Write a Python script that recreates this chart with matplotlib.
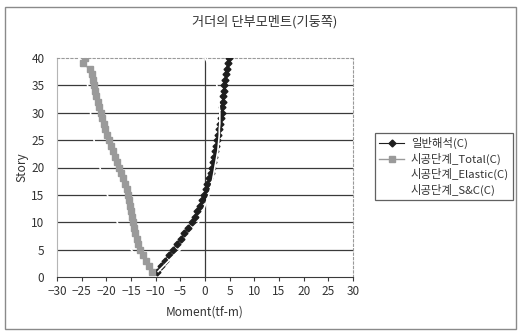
import matplotlib.pyplot as plt
from matplotlib.patches import Rectangle

plt.rcParams['font.family'] = ['Noto Sans CJK KR', 'DejaVu Sans']
plt.rcParams['axes.unicode_minus'] = True

stories = list(range(1, 41))

# 일반해석(C)
general = [-9.8, -9.0, -8.2, -7.3, -6.5, -5.7, -4.9, -4.2, -3.4, -2.7,
           -2.1, -1.6, -1.1, -0.6, -0.2, 0.2, 0.5, 0.9, 1.2, 1.5,
           1.7, 1.9, 2.1, 2.3, 2.5, 2.7, 2.9, 3.0, 3.2, 3.4,
           3.5, 3.6, 3.7, 3.8, 3.9, 4.1, 4.2, 4.4, 4.6, 4.9]
# 시공단계_Total(C)
total = [-10.8, -11.4, -12.0, -12.6, -13.2, -13.5, -13.8, -14.1, -14.4, -14.6,
         -14.8, -15.0, -15.2, -15.4, -15.6, -15.9, -16.3, -16.7, -17.1, -17.4,
         -17.8, -18.2, -18.6, -19.1, -19.5, -19.8, -20.2, -20.5, -20.8, -21.1,
         -21.4, -21.7, -22.0, -22.2, -22.5, -22.7, -23.0, -23.4, -24.7, -24.3]
# 시공단계_Elastic(C)
elastic = [-11.0, -12.0, -13.0, -14.0, -15.0, -15.6, -16.2, -16.8, -17.3, -17.8,
           -18.2, -18.6, -19.0, -19.4, -19.8, -20.1, -20.4, -20.7, -21.0, -21.3,
           -21.6, -21.9, -22.1, -22.3, -22.5, -22.7, -22.9, -23.0, -23.1, -23.2,
           -23.3, -23.4, -23.5, -23.6, -23.8, -24.0, -24.3, -24.6, -25.0, -25.4]
# 시공단계_S&C(C)
snc = [-9.5, -8.4, -7.3, -6.2, -5.0, -4.2, -3.4, -2.6, -1.9, -1.3,
       -0.8, -0.4, 0.0, 0.4, 0.8, 1.1, 1.4, 1.6, 1.8, 2.0,
       2.2, 2.4, 2.6, 2.7, 2.8, 2.9, 2.9, 3.0, 3.0, 3.0,
       2.9, 2.8, 2.7, 2.6, 2.4, 2.1, 1.7, 1.2, 0.6, 0.0]

labels = ['일반해석(C)', '시공단계_Total(C)', '시공단계_Elastic(C)', '시공단계_S&C(C)']
x_ticks = list(range(-30, 31, 5))
y_ticks = list(range(0, 41, 5))

fig = plt.figure(figsize=(5.2, 3.32), dpi=100)
fig.patch.set_facecolor('white')
fig.patches.append(Rectangle((5 / 520, 1 - 329 / 332), 511 / 520, 322 / 332,
                             transform=fig.transFigure, fill=False,
                             edgecolor='#8a8a8a', linewidth=1.0))

ax = fig.add_axes([57 / 520, 1 - 277 / 332, 296 / 520, 219 / 332])

for y in y_ticks[1:-1]:
    ax.axhline(y, color='#3a3a3a', lw=0.9, zorder=1)
ax.axvline(0, color='#3a3a3a', lw=0.9, zorder=1)

ax.plot(general, stories, color='#1e1e1e', marker='D', markersize=3.5, lw=0.8,
        label=labels[0], zorder=4)
ax.plot(total, stories, color='#9a9a9a', marker='s', markersize=3.8, lw=1.0,
        label=labels[1], zorder=4)
ax.plot(elastic, stories, color='white', lw=1.2, label=labels[2], zorder=3)
ax.plot(snc, stories, color='white', lw=1.2, label=labels[3], zorder=5)

ax.set_xlim(-30, 30)
ax.set_ylim(0, 40)
ax.set_xticks(x_ticks)
ax.set_yticks(y_ticks)
ax.tick_params(axis='x', length=3, color='#3a3a3a', labelsize=8.5,
               labelcolor='#333333', pad=3)
ax.tick_params(axis='y', length=0, labelsize=8.5, labelcolor='#333333', pad=9)

ax.spines['bottom'].set_color('#3a3a3a')
ax.spines['left'].set_color('#b5b5b5')
for side in ['top', 'right']:
    ax.spines[side].set_color('#9a9a9a')
    ax.spines[side].set_linestyle((0, (2, 2)))
    ax.spines[side].set_linewidth(0.8)

ax.set_xlabel('Moment(tf-m)', fontsize=8.5, color='#333333', labelpad=5)
ax.set_ylabel('Story', fontsize=8.5, color='#333333', labelpad=2)

fig.text(265 / 520, 1 - 22 / 332, '거더의 단부모멘트(기둥쪽)', ha='center', va='center',
         fontsize=9.5, color='#333333')

leg = ax.legend(loc='upper left', bbox_to_anchor=(375 / 520, 1 - 133 / 332),
                bbox_transform=fig.transFigure, fontsize=8.2, frameon=True,
                fancybox=False, handlelength=2.2, handletextpad=0.6,
                borderpad=0.35, labelspacing=0.3, borderaxespad=0)
leg.get_frame().set_edgecolor('#3a3a3a')
leg.get_frame().set_linewidth(0.9)
for text in leg.get_texts():
    text.set_color('#333333')

fig.savefig('out.png', dpi=100)
